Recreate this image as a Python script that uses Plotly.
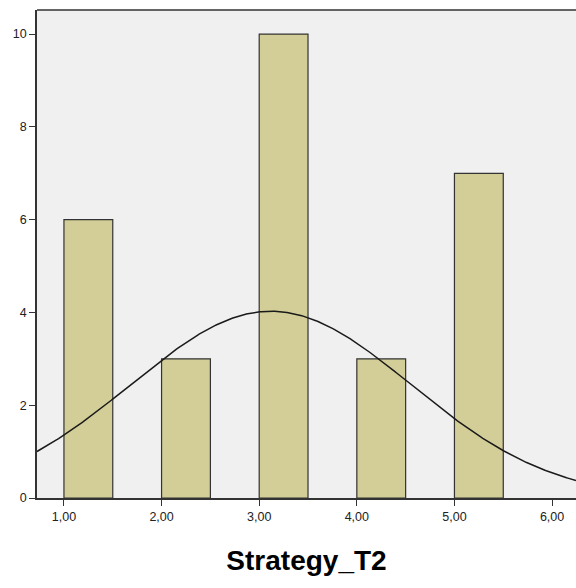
import numpy as np
import plotly.graph_objects as go

# Histogram bins (left edges) and frequencies
bin_starts = [1.0, 2.0, 3.0, 4.0, 5.0]
bin_width = 0.5
counts = [6, 3, 10, 3, 7]

# Normal curve parameters
curve_mean = 3.12
curve_sd = 1.437
n_total = sum(counts)

x_ticks = [1, 2, 3, 4, 5, 6]
x_tick_labels = ["1,00", "2,00", "3,00", "4,00", "5,00", "6,00"]
y_ticks = [0, 2, 4, 6, 8, 10]

x_range = [0.724, 6.245]
y_range = [0, 10.52]

xs = np.linspace(x_range[0], x_range[1], 400)
ys = n_total * bin_width / (curve_sd * np.sqrt(2 * np.pi)) * np.exp(-0.5 * ((xs - curve_mean) / curve_sd) ** 2)

fig = go.Figure()
fig.add_trace(go.Bar(
    x=[b + bin_width / 2 for b in bin_starts],
    y=counts,
    width=bin_width,
    marker=dict(color="#D3CE97", line=dict(color="#333333", width=1.2)),
    hoverinfo="skip",
))
fig.add_trace(go.Scatter(
    x=xs, y=ys, mode="lines",
    line=dict(color="#1a1a1a", width=1.5),
    hoverinfo="skip",
))

fig.update_layout(
    width=576, height=588,
    margin=dict(l=37, r=0, t=10, b=90),
    paper_bgcolor="white",
    plot_bgcolor="#F0F0F0",
    showlegend=False,
    font=dict(family="Liberation Sans, Arial, sans-serif", color="#222222", size=12.5),
    xaxis=dict(
        range=x_range, tickvals=x_ticks, ticktext=x_tick_labels,
        ticks="outside", ticklen=6, tickcolor="#333333", tickwidth=1.2,
        showgrid=False, zeroline=False,
        showline=True, linecolor="#333333", linewidth=1.5,
        mirror=False,
        title=dict(text="<b>Strategy_T2</b>", font=dict(size=28, color="#000000"), standoff=28),
    ),
    yaxis=dict(
        range=y_range, tickvals=y_ticks,
        ticks="outside", ticklen=6, tickcolor="#333333", tickwidth=1.2,
        showgrid=False, zeroline=False,
        showline=True, linecolor="#333333", linewidth=1.5,
        mirror=False,
    ),
    shapes=[dict(type="line", xref="paper", yref="paper", x0=0, x1=1, y0=1, y1=1,
                 line=dict(color="#333333", width=1.5))],
)

fig.write_html("out.html")
